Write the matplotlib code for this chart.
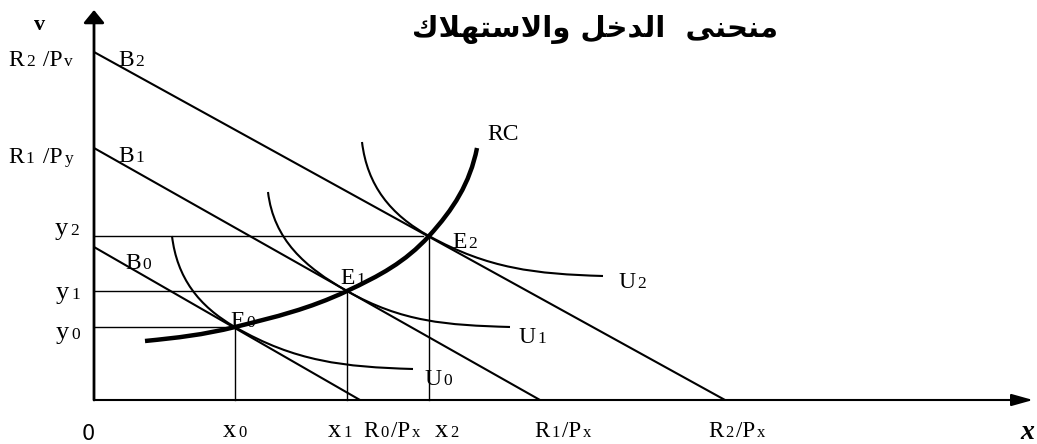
import numpy as np
import matplotlib
matplotlib.use("Agg")
import matplotlib.pyplot as plt
from matplotlib.path import Path
from matplotlib.patches import PathPatch

# budget lines B0, B1, B2 (intercepts on the y and x axes)
budget_y_int = [153, 252, 348]
budget_x_int = [266, 446, 631]

# equilibrium points E0, E1, E2
eq_x = [141, 253, 335]
eq_y = [73, 109, 164]

# indifference curves U0, U1, U2: start (top) and end points
u_top_x = [78, 174, 268]
u_top_y = [164, 208, 258]
u_end_x = [319, 416, 509]
u_end_y = [31, 73, 124]

# income-consumption curve RC: start and end points (passes through E0..E2)
rc_start = (51, 59)
rc_end = (383, 252)

SERIF = "Liberation Serif"
BIG, SMALL = 17, 12.5              # labels in the plot and on the y axis
XBIG, XSMALL, XLET = 16.5, 12, 19  # labels under the x axis

fig = plt.figure(figsize=(10.37, 4.44), dpi=100)
ax = fig.add_axes([0, 0, 1, 1])
ax.set_xlim(-94, 943)
ax.set_ylim(-44, 400)
ax.axis("off")


def unit(v):
    v = np.asarray(v, dtype=float)
    return v / np.linalg.norm(v)


def smooth(points, tangents, k=0.38):
    verts = [points[0]]
    codes = [Path.MOVETO]
    for i in range(len(points) - 1):
        p0 = np.asarray(points[i], float)
        p1 = np.asarray(points[i + 1], float)
        d = np.linalg.norm(p1 - p0) * k
        verts += [p0 + unit(tangents[i]) * d, p1 - unit(tangents[i + 1]) * d, p1]
        codes += [Path.CURVE4] * 3
    return Path(verts, codes)


def label(x, y, parts, gap=1.5):
    prev = None
    for s, size in parts:
        if prev is None:
            prev = ax.text(x, y, s, fontsize=size, family=SERIF, va="baseline", ha="left")
        else:
            prev = ax.annotate(s, xy=(1, y), xycoords=(prev, "data"),
                               xytext=(gap, 0), textcoords="offset points",
                               fontsize=size, family=SERIF, va="baseline", ha="left")


# axes with arrows
ax.annotate("", xy=(0, 390), xytext=(0, 0),
            arrowprops=dict(arrowstyle="-|>,head_length=0.55,head_width=0.45",
                            mutation_scale=14, lw=2, color="k", shrinkA=0, shrinkB=0))
ax.annotate("", xy=(939, 0), xytext=(0, 0),
            arrowprops=dict(arrowstyle="-|>,head_length=0.93,head_width=0.26",
                            mutation_scale=14, lw=1.5, color="k", shrinkA=0, shrinkB=0))

# budget lines
for yi, xi in zip(budget_y_int, budget_x_int):
    ax.plot([0, xi], [yi, 0], color="k", lw=1.5, solid_capstyle="butt")

# guide lines to the equilibrium points
for x, y in zip(eq_x, eq_y):
    ax.plot([0, x - 6], [y, y], color="k", lw=1.0)
    ax.plot([x, x], [0, y], color="k", lw=1.0)

# indifference curves
for i in range(3):
    slope = -budget_y_int[i] / budget_x_int[i]
    pts = [(u_top_x[i], u_top_y[i]), (eq_x[i], eq_y[i]), (u_end_x[i], u_end_y[i])]
    tans = [(0.12, -1), (1, slope), (1, -0.03)]
    ax.add_patch(PathPatch(smooth(pts, tans), fc="none", ec="k", lw=1.5))

# RC curve
rc_pts = [rc_start] + list(zip(eq_x, eq_y)) + [rc_end]
rc_tans = [(1, 0.1)]
for i in range(1, len(rc_pts) - 1):
    rc_tans.append(np.subtract(rc_pts[i + 1], rc_pts[i - 1]))
rc_tans.append((0.2, 1))
ax.add_patch(PathPatch(smooth(rc_pts, rc_tans, k=0.36), fc="none", ec="k", lw=3.2,
                       capstyle="butt"))

# labels on the y axis
label(-86, 334, [("R", BIG), ("2", SMALL), (" /P", BIG), ("v", SMALL)])
label(-86, 237, [("R", BIG), ("1", SMALL), (" /P", BIG), ("y", SMALL)])
label(-39, 165, [("y", XLET), ("2", SMALL)])
label(-38, 101, [("y", XLET), ("1", SMALL)])
label(-38, 61, [("y", XLET), ("0", SMALL)])

# labels on the x axis
label(129, -37, [("x", XLET), ("0", XSMALL)])
label(234, -37, [("x", XLET), ("1", XSMALL)])
label(269, -37, [("R", XBIG), ("0", XSMALL), ("/P", XBIG), ("x", XSMALL)])
label(341, -37, [("x", XLET), ("2", XSMALL)])
label(440, -37, [("R", XBIG), ("1", XSMALL), ("/P", XBIG), ("x", XSMALL)])
label(614, -37, [("R", XBIG), ("2", XSMALL), ("/P", XBIG), ("x", XSMALL)])

# line / curve / point labels
label(24, 334, [("B", BIG), ("2", SMALL)])
label(24, 238, [("B", BIG), ("1", SMALL)])
label(31, 131, [("B", BIG), ("0", SMALL)])
label(136, 73, [("E", BIG), ("0", SMALL)])
label(246, 116, [("E", BIG), ("1", SMALL)])
label(358, 152, [("E", BIG), ("2", SMALL)])
label(330, 15, [("U", BIG), ("0", SMALL)])
label(424, 57, [("U", BIG), ("1", SMALL)])
label(524, 112, [("U", BIG), ("2", SMALL)])
label(393, 260, [("RC", BIG)])

ax.text(-54, 375, "v", family=SERIF, fontsize=16, fontweight="bold", ha="center", va="center")
ax.text(933, -32, "x", family=SERIF, fontsize=20, fontweight="bold", style="italic",
        ha="center", va="center")
ax.text(-6, -34, "0", family="DejaVu Sans", fontsize=15, ha="center", va="center")

# title: Arabic presentation forms in visual (left-to-right) order
words = [
    "\uFEE3\uFEE8\uFEA4\uFEE8\uFEF0",                      # منحنى
    "\uFE8D\uFEDF\uFEAA\uFEA7\uFEDE",                      # الدخل
    "\uFEED\uFE8D\uFEFB\uFEB3\uFE98\uFEEC\uFEFC\uFED9",    # والاستهلاك
]
title = "  ".join(words[:2]) + " " + words[2]
ax.text(595 - 94, 371, title[::-1], family="DejaVu Sans", fontsize=21, fontweight="bold",
        ha="center", va="center")

fig.savefig("out.png", dpi=100)
